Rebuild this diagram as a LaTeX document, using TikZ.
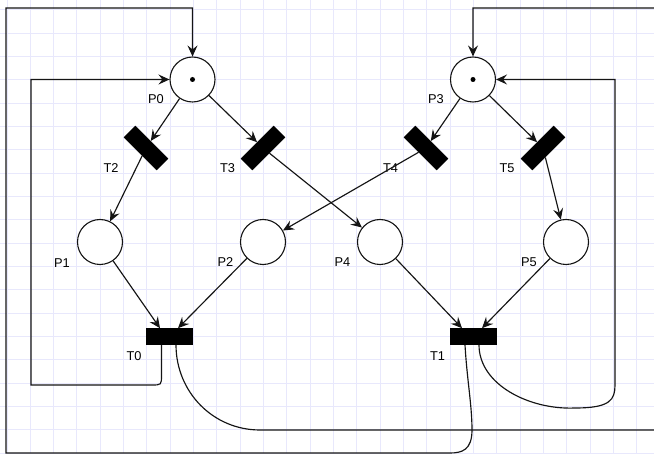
\documentclass[tikz,border=0pt]{standalone}
\usepackage{fontspec}
\setmainfont{Liberation Sans}
\usetikzlibrary{arrows.meta}
\definecolor{gridc}{RGB}{232,232,252}
\definecolor{linec}{RGB}{20,20,20}
\tikzset{
 place/.style={circle,draw=linec,line width=1.1pt,fill=white,minimum size=45pt,inner sep=0pt},
 trans/.style={rectangle,fill=black,draw=black,line width=0.6pt,minimum width=46pt,minimum height=16pt,inner sep=0pt},
 lbl/.style={font=\fontsize{12.8}{14}\selectfont,inner sep=0pt},
 arc/.style={draw=linec,line width=1.15pt,-{Stealth[length=11pt,width=10pt,inset=4pt]}},
 token/.style={circle,fill=black,minimum size=5pt,inner sep=0pt},
}
\begin{document}
\begin{tikzpicture}[x=1pt,y=-1pt]
\clip (0,0) rectangle (654,454);
\fill[white] (0,0) rectangle (654,454);
\foreach \i in {0,...,28} \draw[gridc,line width=1pt] ({7+23.333*\i},0) -- ({7+23.333*\i},454);
\foreach \i in {0,...,19} \draw[gridc,line width=1pt] (0,{10+23.333*\i}) -- (654,{10+23.333*\i});

% places
\node[place] (P0) at (192.5,79.5) {};
\node[place] (P3) at (473,79.5) {};
\node[place] (P1) at (100,242) {};
\node[place] (P2) at (263,242) {};
\node[place] (P4) at (380,242) {};
\node[place] (P5) at (566,242) {};
\node[token] (k0) at (P0) {};
\node[token] (k3) at (P3) {};

% transitions
\node[trans,rotate=-45] (T2) at (146,148) {};
\node[trans,rotate=45] (T3) at (263,148) {};
\node[trans,rotate=-45] (T4) at (426,148) {};
\node[trans,rotate=45] (T5) at (543,148) {};
\node[trans] (T0) at (169.5,336.5) {};
\node[trans] (T1) at (473.5,336.5) {};

% labels
\node[lbl] (lP0) at (156,99) {P0};
\node[lbl] (lP3) at (436,99) {P3};
\node[lbl] (lT2) at (111,168.5) {T2};
\node[lbl] (lT3) at (227.5,168.5) {T3};
\node[lbl] (lT4) at (390.5,168) {T4};
\node[lbl] (lT5) at (507,168) {T5};
\node[lbl] (lP1) at (62,263) {P1};
\node[lbl] (lP2) at (225.5,262.5) {P2};
\node[lbl] (lP4) at (342.5,262) {P4};
\node[lbl] (lP5) at (529,262) {P5};
\node[lbl] (lT0) at (134,356.5) {T0};
\node[lbl] (lT1) at (437.5,356) {T1};

% arcs
\draw[arc] (P0) -- (T2);
\draw[arc] (P0) -- (T3);
\draw[arc] (P3) -- (T4);
\draw[arc] (P3) -- (T5);
\draw[arc] (T2) -- (P1);
\draw[arc] (T3) -- (P4);
\draw[arc] (T4) -- (P2);
\draw[arc] (T5) -- (P5.103);
\draw[arc] (P1) -- ([xshift=-9.5pt]T0.north);
\draw[arc] (P2) -- ([xshift=8.5pt]T0.north);
\draw[arc] (P4) -- ([xshift=-11.5pt]T1.north);
\draw[arc] (P5) -- ([xshift=8.5pt]T1.north);

% feedback arcs
\draw[arc] ([xshift=-8pt]T0.south) -- (161.5,375) .. controls (161.5,385) .. (151.5,385) -- (31,385) -- (31,79.5) -- (P0.west);
\draw[arc] ([xshift=6.5pt]T0.south) .. controls (176,392) and (213,430) .. (260,430) -- (670,430) -- (670,8) -- (473,8) -- (P3.north);
\draw[arc] ([xshift=-8.5pt]T1.south) .. controls (467,380) and (472,405) .. (472,430) .. controls (472,450) and (462,453) .. (450,453) -- (6,453) -- (6,8) -- (192.5,8) -- (P0.north);
\draw[arc] ([xshift=5.5pt]T1.south) .. controls (479,385) and (530,410) .. (575,408) .. controls (610,408) and (615,400) .. (615,385) -- (615,79.5) -- (P3.east);
\end{tikzpicture}
\end{document}
